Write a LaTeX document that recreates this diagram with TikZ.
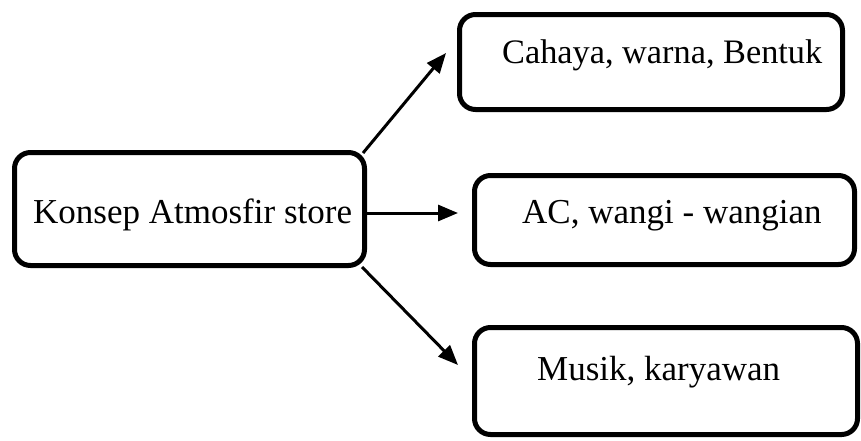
\documentclass[tikz,border=0pt]{standalone}
\usepackage{fontspec}
\setmainfont{Liberation Serif}
\usetikzlibrary{arrows.meta}
\begin{document}
\begin{tikzpicture}[x=1pt,y=-1pt,
  boxstyle/.style={draw=black, line width=5pt, rounded corners=16pt, inner sep=0pt},
  label/.style={anchor=base west, inner sep=0pt, font=\fontsize{35}{42}\selectfont},
  arr/.style={line width=3pt, -{Triangle[length=20pt,width=16pt]}}]
\useasboundingbox (0,0) rectangle (861,440);
% boxes
\node[boxstyle, minimum width=350pt, minimum height=113pt] (k) at (189.5,209) {};
\node[boxstyle, minimum width=383pt, minimum height=95pt] (c) at (651,62) {};
\node[boxstyle, minimum width=380pt, minimum height=89pt] (a) at (664.5,220) {};
\node[boxstyle, minimum width=383pt, minimum height=107pt] (m) at (666,381) {};
% texts
\node[label] (tk) at (33,223) {Konsep Atmosfir store};
\node[label, font=\fontsize{34.3}{42}\selectfont] (tc) at (502,63) {Cahaya, warna, Bentuk};
\node[label] (ta) at (522,223) {AC, wangi - wangian};
\node[label] (tm) at (537,380) {Musik, karyawan};
% connector ends
\coordinate (s1) at (363,153);
\coordinate (e1) at (446,53);
\coordinate (s2) at (367,213);
\coordinate (e2) at (458,213);
\coordinate (s3) at (362,267);
\coordinate (e3) at (458,365);
\draw[arr] (s1) -- (e1);
\draw[arr] (s2) -- (e2);
\draw[arr] (s3) -- (e3);
\end{tikzpicture}
\end{document}
